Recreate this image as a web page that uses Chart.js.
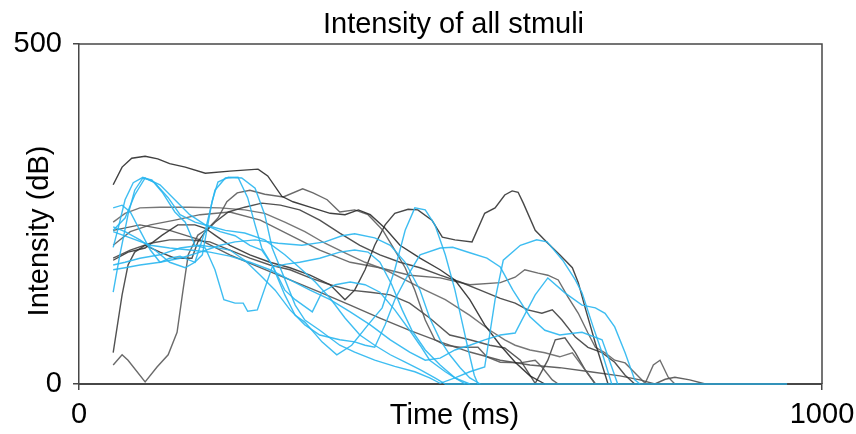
<!DOCTYPE html>
<html>
<head>
<meta charset="utf-8">
<script src="https://cdn.jsdelivr.net/npm/chart.js@4.4.1/dist/chart.umd.min.js"></script>
<style>
  html, body { margin: 0; padding: 0; background: #fff; }
</style>
</head>
<body>
<canvas id="chart" width="856" height="434"></canvas>
<script>
// Intensity traces --------------------------------------------------------------------------
// each trace is a list of [time (ms), intensity (dB)]
const titleText = 'Intensity of all stmuli';
const xTitle = 'Time (ms)';
const yTitle = 'Intensity (dB)';
const xTicks = [0, 1000];
const yTicks = [0, 500];

const blue1 = [[46,135],[55,190],[66,249],[75,285],[86,303],[98,300],[112,282],[129,253],[143,238],[156,204],[170,200],[183,168],[195,124],[210,119],[221,119],[227,107],[240,109],[260,172],[277,176],[297,179],[324,185],[351,194],[371,197],[389,194],[405,179],[421,146],[435,109],[448,79],[466,50],[486,28],[506,9],[520,0]];
const blue2 = [[46,226],[62,244],[75,278],[89,303],[109,293],[129,271],[149,249],[170,234],[190,224],[210,218],[230,204],[246,197],[260,175],[277,131],[291,101],[304,91],[327,62],[347,43],[367,57],[389,87],[408,112],[425,168],[439,226],[452,259],[466,256],[479,234],[493,190],[506,138],[515,94],[524,50],[532,13],[537,0]];
const blue3 = [[46,175],[62,179],[82,185],[109,190],[136,200],[163,204],[183,201],[203,197],[223,182],[244,160],[264,138],[284,109],[304,87],[324,72],[351,65],[371,62],[385,57],[398,54],[412,87],[425,124],[439,153],[459,190],[486,200],[503,201],[526,193],[549,185],[567,172],[584,138],[607,99],[627,79],[647,72],[668,75],[677,76],[704,65],[717,25],[725,0]];
const blue4 = [[46,231],[62,224],[82,212],[102,197],[122,179],[143,171],[156,179],[166,190],[179,268],[187,297],[201,304],[219,303],[237,288],[250,249],[260,200],[273,165],[291,116],[304,94],[324,79],[351,57],[371,47],[398,35],[425,26],[452,18],[472,9],[486,1],[506,9],[526,18],[546,25],[560,124],[571,182],[594,204],[616,212],[630,209],[651,182],[668,153],[677,134],[692,84],[704,46],[717,0]];
const blue5 = [[46,259],[58,263],[69,253],[82,226],[96,197],[109,179],[122,185],[136,188],[156,179],[170,226],[183,285],[197,303],[214,304],[227,274],[237,234],[246,200],[260,175],[277,138],[291,124],[314,106],[327,135],[345,146],[365,150],[385,146],[405,135],[425,109],[445,79],[459,57],[472,35],[493,18],[506,9],[526,0]];
const blue6 = [[46,201],[52,226],[62,271],[73,296],[86,304],[102,296],[120,274],[136,249],[156,238],[176,232],[197,226],[223,222],[250,212],[277,190],[297,171],[318,150],[338,126],[358,97],[378,72],[398,57],[419,43],[439,32],[459,21],[479,9],[493,0],[953,0]];
const blue7 = [[46,224],[69,215],[96,204],[122,200],[149,197],[176,194],[203,188],[230,179],[257,168],[284,153],[311,138],[338,124],[365,106],[392,87],[419,65],[445,47],[466,35],[486,38],[506,50],[526,57],[546,65],[567,72],[587,75],[596,94],[614,131],[631,156],[654,134],[677,116],[695,112],[708,104],[721,84],[735,46],[748,6],[755,0]];
const blue8 = [[46,168],[62,171],[82,175],[109,179],[136,185],[163,194],[190,204],[210,209],[237,212],[268,207],[300,204],[331,209],[354,218],[371,221],[398,215],[419,204],[439,179],[459,138],[472,97],[486,65],[499,43],[513,24],[526,9],[540,0]];

const gray1 = [[46,293],[58,319],[71,332],[89,335],[106,331],[122,324],[143,319],[170,310],[203,313],[241,316],[254,306],[273,276],[288,268],[311,260],[338,251],[358,249],[376,256],[392,249],[412,229],[432,204],[459,185],[486,168],[506,153],[526,124],[546,87],[567,57],[587,32],[607,12],[627,0]];
const gray2 = [[46,28],[58,43],[66,35],[89,3],[105,25],[120,43],[132,76],[140,138],[147,190],[160,219],[174,229],[187,244],[199,268],[213,281],[230,285],[250,279],[275,275],[301,287],[315,281],[334,271],[351,253],[371,256],[389,249],[409,226],[425,197],[439,171],[452,138],[466,94],[479,65],[493,57],[513,54],[537,54],[549,40],[567,32],[594,31],[614,35],[623,25],[637,6],[645,0]];
const gray3 = [[46,46],[58,131],[66,175],[75,194],[89,204],[109,194],[129,185],[152,185],[160,209],[170,224],[183,238],[201,253],[223,260],[246,266],[271,263],[297,256],[324,241],[351,222],[378,204],[405,190],[432,179],[459,171],[486,160],[513,150],[540,138],[567,126],[587,119],[604,109],[623,104],[637,109],[650,94],[668,69],[685,54],[704,46],[721,32],[735,13],[748,0]];
const gray4 = [[46,238],[62,251],[82,259],[109,260],[149,260],[190,259],[223,256],[250,251],[277,238],[304,224],[331,207],[358,193],[385,179],[412,168],[439,153],[466,138],[493,124],[526,101],[553,79],[573,65],[587,57],[607,50],[627,46],[647,40],[664,46],[681,21],[695,0]];
const gray5 = [[46,185],[69,197],[96,207],[122,212],[149,212],[176,209],[203,197],[230,185],[257,175],[284,168],[311,156],[338,146],[365,138],[392,135],[419,131],[445,119],[472,97],[499,72],[526,65],[553,57],[573,53],[594,35],[614,1],[631,35],[641,65],[654,68],[668,46],[681,21],[695,0]];
const gray6 = [[46,182],[66,194],[89,200],[112,219],[133,234],[156,234],[170,229],[183,219],[203,204],[230,190],[257,179],[284,171],[311,160],[338,146],[358,124],[371,138],[385,168],[398,204],[412,234],[425,251],[443,257],[456,256],[475,241],[489,216],[506,212],[529,209],[546,251],[560,259],[573,278],[583,284],[591,282],[598,266],[614,226],[631,207],[647,190],[664,171],[672,149],[681,113],[695,60],[712,0]];
const gray7 = [[46,204],[69,224],[96,234],[129,241],[163,249],[203,253],[244,241],[284,219],[324,197],[365,179],[405,171],[445,160],[486,156],[526,146],[567,149],[587,157],[600,168],[618,163],[631,160],[645,153],[658,128],[672,104],[685,75],[695,54],[708,46],[721,35],[735,31],[744,21],[762,1],[773,28],[782,35],[793,10],[802,0]];
const gray8 = [[46,226],[82,234],[122,226],[163,212],[203,190],[244,171],[284,153],[324,135],[365,116],[405,97],[445,79],[486,62],[526,47],[567,35],[607,28],[647,24],[688,18],[728,12],[755,6],[775,0],[789,7],[802,10],[822,6],[843,0]];

const blueTraces = [blue1, blue2, blue3, blue4, blue5, blue6, blue7, blue8];
const grayTraces = [gray1, gray2, gray3, gray4, gray5, gray6, gray7, gray8];
const grayShades = ['rgba(30,30,30,0.85)', 'rgba(80,80,80,0.85)', 'rgba(50,50,50,0.85)', 'rgba(95,95,95,0.85)',
                    'rgba(60,60,60,0.85)', 'rgba(40,40,40,0.85)', 'rgba(85,85,85,0.85)', 'rgba(70,70,70,0.85)'];

const axisColor = '#474747';
const font = '"Liberation Sans", Arial, sans-serif';
const fontSize = 29;

const toPoints = (trace) => trace.map(p => ({ x: p[0], y: p[1] }));

let datasets = [];
blueTraces.forEach((t, i) => {
    datasets.push({ label: 'blue' + (i + 1), data: toPoints(t), borderColor: 'rgba(41,182,240,0.9)', borderWidth: 1.4, clip: false });
});
grayTraces.forEach((t, i) => {
    datasets.push({ label: 'gray' + (i + 1), data: toPoints(t), borderColor: grayShades[i], borderWidth: 1.4, clip: false });
});

// frame on top / right side plus the three titles
const frameAndTitles = {
    id: 'frameAndTitles',
    afterDraw(chart) {
        const { ctx, chartArea: { top, bottom, left, right } } = chart;
        ctx.save();
        ctx.strokeStyle = axisColor;
        ctx.lineWidth = 1.5;
        ctx.beginPath();
        ctx.moveTo(left, top);
        ctx.lineTo(right, top);
        ctx.lineTo(right, bottom);
        ctx.stroke();

        ctx.fillStyle = '#000';
        ctx.font = fontSize + 'px ' + font;
        ctx.textAlign = 'center';
        ctx.textBaseline = 'alphabetic';
        ctx.fillText(titleText, (left + right) / 2 + 3, top - 11);
        ctx.fillText(xTitle, (left + right) / 2 + 4, bottom + 40);

        ctx.translate(40, (top + bottom) / 2 + 17);
        ctx.rotate(-Math.PI / 2);
        ctx.textBaseline = 'middle';
        ctx.fillText(yTitle, 0, 0);
        ctx.restore();
    }
};

// keep the plot box where the picture has it, tick labels may hang over
const noScalePadding = (scale) => {
    scale.paddingLeft = 0;
    scale.paddingRight = 0;
    scale.paddingTop = 0;
    scale.paddingBottom = 0;
};

new Chart(document.getElementById('chart'), {
    type: 'line',
    data: { datasets: datasets },
    options: {
        responsive: false,
        animation: false,
        layout: { padding: { left: 0, top: 44, right: 34, bottom: 0 } },
        elements: {
            point: { radius: 0 },
            line: { tension: 0, fill: false }
        },
        plugins: {
            legend: { display: false },
            title: { display: false },
            tooltip: { enabled: false }
        },
        scales: {
            x: {
                type: 'linear',
                min: xTicks[0],
                max: xTicks[1],
                afterFit: (scale) => { scale.height = 50; noScalePadding(scale); },
                afterBuildTicks: (scale) => { scale.ticks = xTicks.map(v => ({ value: v })); },
                ticks: { color: '#000', font: { family: font, size: fontSize }, padding: 8, maxRotation: 0,
                         callback: (v) => String(v) },
                grid: { drawOnChartArea: false, drawTicks: true, tickLength: 6, color: axisColor, lineWidth: 1.5 },
                border: { color: axisColor, width: 2 }
            },
            y: {
                type: 'linear',
                min: yTicks[0],
                max: yTicks[1],
                afterFit: (scale) => { scale.width = 79; noScalePadding(scale); },
                afterBuildTicks: (scale) => { scale.ticks = yTicks.map(v => ({ value: v })); },
                ticks: { color: '#000', font: { family: font, size: fontSize }, padding: 11,
                         callback: (v) => String(v) },
                grid: { drawOnChartArea: false, drawTicks: true, tickLength: 6, color: axisColor, lineWidth: 1.5 },
                border: { color: axisColor, width: 1.5 }
            }
        }
    },
    plugins: [frameAndTitles]
});
</script>
</body>
</html>
